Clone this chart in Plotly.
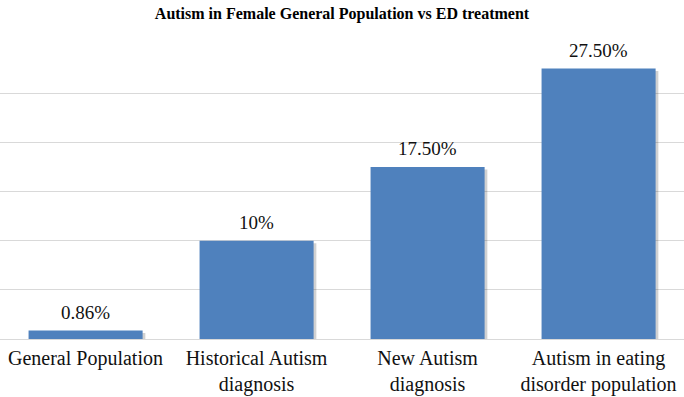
import plotly.graph_objects as go

categories = ["General Population", "Historical Autism<br>diagnosis", "New Autism<br>diagnosis", "Autism in eating<br>disorder population"]
values = [0.86, 10, 17.5, 27.5]
value_labels = ["0.86%", "10%", "17.50%", "27.50%"]

font_family = "Liberation Serif, Times New Roman, serif"

fig = go.Figure()
# soft shadow behind bars
fig.add_trace(go.Bar(
    x=categories, y=values, width=0.667, offset=-0.333 + 0.016,
    base=[-0.25]*len(values),
    marker=dict(color="rgba(0,0,0,0.18)", line=dict(width=0)),
    hoverinfo="skip", showlegend=False,
))
fig.add_trace(go.Bar(
    x=categories, y=values, width=0.667, offset=-0.333,
    marker=dict(color="#4F81BD", line=dict(width=0)),
    showlegend=False,
))

for cat, val, lab in zip(categories, values, value_labels):
    fig.add_annotation(
        x=cat, y=val, text=lab, showarrow=False,
        xanchor="center", yanchor="bottom", yshift=6,
        font=dict(family=font_family, size=19, color="#111111"),
    )

fig.update_layout(
    width=684, height=397,
    margin=dict(l=0, r=0, t=44, b=58, pad=0),
    paper_bgcolor="white", plot_bgcolor="white",
    barmode="overlay",
    title=dict(text="<b>Autism in Female General Population vs ED treatment</b>",
               x=0.5, xanchor="center", y=0.965, yanchor="middle",
               font=dict(family=font_family, size=16, color="black")),
    font=dict(family=font_family, color="#111111"),
)
fig.update_xaxes(
    range=[-0.5, 3.5], automargin=False,
    tickfont=dict(family=font_family, size=20, color="#111111"),
    showline=False, showgrid=False, ticks="", ticklabelstandoff=5,
)
fig.update_yaxes(
    range=[0, 30], dtick=5, tick0=0, showticklabels=False, automargin=False,
    showgrid=True, gridcolor="#d9d9d9", gridwidth=1,
    zeroline=True, zerolinecolor="#d9d9d9", zerolinewidth=1, showline=False,
)

fig.write_html("out.html", config={"displayModeBar": False},
               post_script="document.body.style.margin='0px';document.body.style.overflow='hidden';")
